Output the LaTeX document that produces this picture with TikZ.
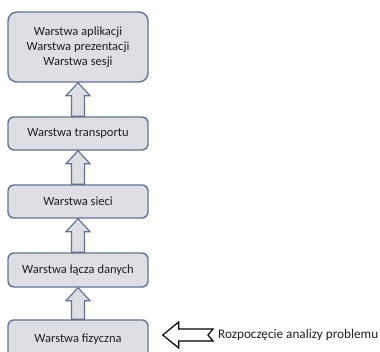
\documentclass[tikz,border=0pt]{standalone}
\usepackage{fontspec}
\setmainfont{Carlito}
\usetikzlibrary{calc}
\definecolor{boxfill}{RGB}{222,223,229}
\definecolor{boxline}{RGB}{100,114,142}
\definecolor{txt}{RGB}{30,30,30}
\newcommand\blockup[2]{%
  \draw[uparrowstyle] let \p1=(#1.south), \p2=(#2.north) in
    (\x2-6.5pt,\y2) -- (\x2-6.5pt,\y1-13pt) -- (\x2-12pt,\y1-13pt) -- (\x2,\y1)
    -- (\x2+12pt,\y1-13pt) -- (\x2+6.5pt,\y1-13pt) -- (\x2+6.5pt,\y2) -- cycle;}
\begin{document}
\begin{tikzpicture}[x=1pt,y=-1pt,
  layer/.style={draw=boxline, line width=1.4pt, fill=boxfill, rounded corners=6pt,
    minimum width=140pt, text=txt, font=\fontsize{12.5}{15}\selectfont, align=center, inner sep=0pt},
  uparrowstyle/.style={draw=boxline, line width=1.2pt, fill=boxfill, line join=miter},
  leftarrowstyle/.style={draw=black, line width=1.2pt, fill=white, line join=miter},
  label text/.style={text=txt, font=\fontsize{13.2}{15}\selectfont, inner sep=0pt, anchor=west}]
\useasboundingbox (0,0) rectangle (380,351);
\node[layer, minimum height=70pt, rounded corners=9pt] (b1) at (78,47) {Warstwa aplikacji\\Warstwa prezentacji\\Warstwa sesji};
\node[layer, minimum height=33pt] (b2) at (78,133.5) {Warstwa transportu};
\node[layer, minimum height=33pt] (b3) at (78,201.5) {Warstwa sieci};
\node[layer, minimum height=34pt] (b4) at (78,270) {Warstwa łącza danych};
\node[layer, minimum height=38pt] (b5) at (78,339) {Warstwa fizyczna};
\blockup{b1}{b2}
\blockup{b2}{b3}
\blockup{b3}{b4}
\blockup{b4}{b5}
\node[label text] (t) at (218,335) {Rozpoczęcie analizy problemu};
\draw[leftarrowstyle] let \p1=(b5.east), \p2=(t.west) in
  (\x1+14pt,\y2) -- (\x1+30pt,\y2+13pt) -- (\x1+30pt,\y2+6pt) -- (\x2-5pt,\y2+6pt)
  -- (\x2-10pt,\y2) -- (\x2-5pt,\y2-6pt) -- (\x1+30pt,\y2-6pt) -- (\x1+30pt,\y2-13pt) -- cycle;
\end{tikzpicture}
\end{document}
